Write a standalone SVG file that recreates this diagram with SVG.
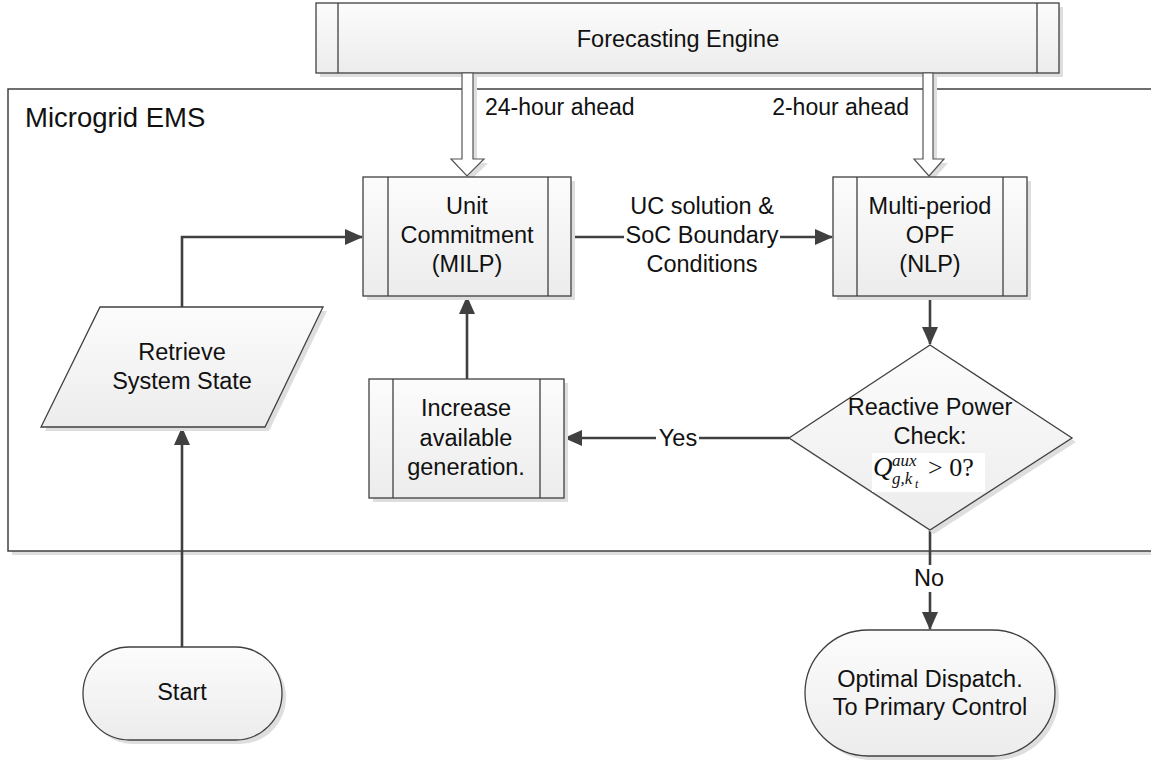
<svg xmlns="http://www.w3.org/2000/svg" width="1151" height="761" viewBox="0 0 1151 761">
<defs>
<linearGradient id="g" x1="0" y1="0" x2="0" y2="1">
<stop offset="0" stop-color="#fcfcfc"/>
<stop offset="1" stop-color="#ececec"/>
</linearGradient>
<marker id="ah" markerUnits="userSpaceOnUse" markerWidth="18" markerHeight="16" refX="17" refY="8" orient="auto">
<path d="M0,0 L18,8 L0,16 Z" fill="#404040"/>
</marker>
<style>
.sh{fill:#dedede;stroke:none}
.nd{fill:url(#g);stroke:#404040;stroke-width:1.3}
.in{stroke:#404040;stroke-width:1.3;fill:none}
.t{font-family:"Liberation Sans",Arial,sans-serif;font-size:23.5px;fill:#111;text-anchor:middle}
.lb{font-family:"Liberation Sans",Arial,sans-serif;font-size:23px;fill:#111}
.c{fill:none;stroke:#404040;stroke-width:2.6}
.ho{fill:#fff;stroke:#555;stroke-width:1.2}
.m{font-family:"Liberation Serif","Times New Roman",serif;fill:#111}
</style>
</defs>
<rect width="1151" height="761" fill="#fff"/>

<g id="container">
<rect x="12" y="551" width="1139" height="4" fill="#dedede"/>
<rect x="8" y="89" width="1150" height="462" fill="none" stroke="#404040" stroke-width="1.5"/>
<text x="25" y="127" class="lb" style="font-size:27.5px">Microgrid EMS</text>
</g>

<g id="forecast">
<rect class="sh" x="320" y="7" width="743" height="70"/>
<rect class="nd" x="316" y="3" width="743" height="70"/>
<line class="in" x1="338" y1="3" x2="338" y2="73"/>
<line class="in" x1="1037" y1="3" x2="1037" y2="73"/>
<text class="t" x="678" y="47">Forecasting Engine</text>
</g>

<g id="hollow-arrows">
<polygon class="sh" points="466,77 477,77 477,163 488,163 471,180 455,163 466,163"/>
<polygon class="ho" points="462,73 473,73 473,159 484,159 467,176 451,159 462,159"/>
<polygon class="sh" points="927,77 937,77 937,163 948,163 933,180 918,163 927,163"/>
<polygon class="ho" points="923,73 933,73 933,159 944,159 929,176 914,159 923,159"/>
<text class="lb" x="485" y="115">24-hour ahead</text>
<text class="lb" x="909" y="115" text-anchor="end">2-hour ahead</text>
</g>

<g id="connectors">
<path class="c" d="M182,647 V428" marker-end="url(#ah)"/>
<path class="c" d="M182,307 V237 H362" marker-end="url(#ah)"/>
<path class="c" d="M571,237 H624"/>
<path class="c" d="M780,237 H832" marker-end="url(#ah)"/>
<path class="c" d="M930,296 V344" marker-end="url(#ah)"/>
<path class="c" d="M467,379 V297" marker-end="url(#ah)"/>
<path class="c" d="M789,438 H699"/>
<path class="c" d="M656,438 H565" marker-end="url(#ah)"/>
<path class="c" d="M930,530 V565"/>
<path class="c" d="M930,592 V629" marker-end="url(#ah)"/>
<text class="t" x="702" y="214">UC solution &amp;</text>
<text class="t" x="702" y="243">SoC Boundary</text>
<text class="t" x="702" y="272">Conditions</text>
<text class="t" x="678" y="446">Yes</text>
<text class="t" x="929" y="586">No</text>
</g>

<g id="uc">
<rect class="sh" x="367" y="181" width="208" height="119"/>
<rect class="nd" x="363" y="177" width="208" height="119"/>
<line class="in" x1="388" y1="177" x2="388" y2="296"/>
<line class="in" x1="548" y1="177" x2="548" y2="296"/>
<text class="t" x="467" y="214">Unit</text>
<text class="t" x="467" y="243">Commitment</text>
<text class="t" x="467" y="272">(MILP)</text>
</g>

<g id="opf">
<rect class="sh" x="837" y="181" width="194" height="119"/>
<rect class="nd" x="833" y="177" width="194" height="119"/>
<line class="in" x1="857" y1="177" x2="857" y2="296"/>
<line class="in" x1="1003" y1="177" x2="1003" y2="296"/>
<text class="t" x="930" y="214">Multi-period</text>
<text class="t" x="930" y="243">OPF</text>
<text class="t" x="930" y="272">(NLP)</text>
</g>

<g id="increase">
<rect class="sh" x="373" y="383" width="195" height="119"/>
<rect class="nd" x="369" y="379" width="195" height="119"/>
<line class="in" x1="393" y1="379" x2="393" y2="498"/>
<line class="in" x1="540" y1="379" x2="540" y2="498"/>
<text class="t" x="466" y="416">Increase</text>
<text class="t" x="466" y="446">available</text>
<text class="t" x="466" y="475">generation.</text>
</g>

<g id="retrieve">
<polygon class="sh" points="104,311 327,311 269,431 45,431"/>
<polygon class="nd" points="100,307 323,307 265,427 41,427"/>
<text class="t" x="182" y="360">Retrieve</text>
<text class="t" x="182" y="389">System State</text>
</g>

<g id="check">
<polygon class="sh" points="934,349 1076,442 934,534 793,442"/>
<polygon class="nd" points="930,345 1072,438 930,530 789,438"/>
<text class="t" x="930" y="415">Reactive Power</text>
<text class="t" x="930" y="444">Check:</text>
<rect x="872" y="453" width="113" height="39" fill="#fff"/>
<text class="m"><tspan x="873" y="476" font-size="27" font-style="italic">Q</tspan><tspan x="892" y="466" font-size="17" font-style="italic">aux</tspan><tspan x="892" y="484" font-size="17" font-style="italic">g,k</tspan><tspan x="915" y="488" font-size="12" font-style="italic">t</tspan><tspan x="928" y="476" font-size="26">&gt; 0?</tspan></text>
</g>

<g id="start">
<rect class="sh" x="87" y="651" width="199" height="93" rx="46.5"/>
<rect class="nd" x="83" y="647" width="199" height="93" rx="46.5"/>
<text class="t" x="182" y="700">Start</text>
</g>

<g id="dispatch">
<rect class="sh" x="809" y="634" width="250" height="126" rx="63"/>
<rect class="nd" x="805" y="630" width="250" height="126" rx="63"/>
<text class="t" x="930" y="687">Optimal Dispatch.</text>
<text class="t" x="930" y="715">To Primary Control</text>
</g>
</svg>
